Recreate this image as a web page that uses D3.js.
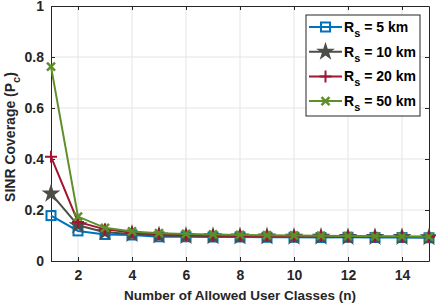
<!DOCTYPE html>
<html>
<head>
<meta charset="utf-8">
<script src="https://d3js.org/d3.v7.min.js"></script>
<style>
  body { margin: 0; background: #fff; }
  svg { display: block; font-family: "Liberation Sans", Arial, sans-serif; }
  .tick text { font-size: 14px; font-weight: bold; fill: #262626; }
</style>
</head>
<body>
<svg width="436" height="307"></svg>
<script>
const nValues = d3.range(1, 16)
const rs5  = [0.178, 0.118, 0.104, 0.102, 0.095, 0.095, 0.094, 0.094, 0.093, 0.093, 0.092, 0.093, 0.092, 0.092, 0.091]
const rs10 = [0.264, 0.140, 0.113, 0.106, 0.100, 0.098, 0.097, 0.096, 0.096, 0.095, 0.095, 0.094, 0.094, 0.094, 0.093]
const rs20 = [0.409, 0.153, 0.124, 0.112, 0.105, 0.102, 0.100, 0.099, 0.098, 0.097, 0.098, 0.096, 0.096, 0.095, 0.095]
const rs50 = [0.762, 0.174, 0.130, 0.116, 0.109, 0.106, 0.104, 0.102, 0.101, 0.100, 0.099, 0.098, 0.097, 0.096, 0.095]
const seriesNames = ["5 km", "10 km", "20 km", "50 km"]
const xTicks = [2, 4, 6, 8, 10, 12, 14]
const yTicks = [0, 0.2, 0.4, 0.6, 0.8, 1]

const series = [
  {name: seriesNames[0], vals: rs5,  color: "#0072BD", marker: "square"},
  {name: seriesNames[1], vals: rs10, color: "#4d4d48", marker: "star"},
  {name: seriesNames[2], vals: rs20, color: "#A2142F", marker: "plus"},
  {name: seriesNames[3], vals: rs50, color: "#5e8f2a", marker: "cross"}
]

const svg = d3.select("svg")
const m = {top: 6, right: 7, bottom: 46, left: 51}
const W = 436, H = 307
const x = d3.scaleLinear().domain([1, 15]).range([m.left, W - m.right])
const y = d3.scaleLinear().domain([0, 1]).range([H - m.bottom, m.top])

// grid
svg.append("g").selectAll("line").data(xTicks).enter().append("line")
  .attr("x1", d => x(d)).attr("x2", d => x(d)).attr("y1", y(0)).attr("y2", y(1))
  .attr("stroke", "#e5e5e5")
svg.append("g").selectAll("line").data(yTicks.slice(1, -1)).enter().append("line")
  .attr("y1", d => y(d)).attr("y2", d => y(d)).attr("x1", x(1)).attr("x2", x(15))
  .attr("stroke", "#e5e5e5")

// axes
const axisColor = "#262626"
let xAxis = svg.append("g").attr("transform", "translate(0," + y(0) + ")")
  .call(d3.axisBottom(x).tickValues(xTicks).tickSizeInner(-4).tickSizeOuter(0).tickPadding(9))
let yAxis = svg.append("g").attr("transform", "translate(" + x(1) + ",0)")
  .call(d3.axisLeft(y).tickValues(yTicks).tickFormat(d3.format("~g")).tickSizeInner(-4).tickSizeOuter(0).tickPadding(7))
let xTop = svg.append("g").attr("transform", "translate(0," + y(1) + ")")
  .call(d3.axisTop(x).tickValues(xTicks).tickSizeInner(-4).tickSizeOuter(0).tickFormat(""))
let yRight = svg.append("g").attr("transform", "translate(" + x(15) + ",0)")
  .call(d3.axisRight(y).tickValues(yTicks).tickSizeInner(-4).tickSizeOuter(0).tickFormat(""))
svg.selectAll(".domain, .tick line").attr("stroke", axisColor)

// markers
function drawMarker(g, type, color, cx, cy) {
  if (type == "square") {
    g.append("rect").attr("x", cx - 4.5).attr("y", cy - 4.5).attr("width", 9).attr("height", 9)
      .attr("fill", "none").attr("stroke", color).attr("stroke-width", 2)
  } else if (type == "star") {
    g.append("path").attr("d", d3.symbol(d3.symbolStar, 110)())
      .attr("transform", "translate(" + cx + "," + cy + ")").attr("fill", color)
  } else if (type == "plus") {
    g.append("path").attr("d", "M" + (cx - 6) + "," + cy + "H" + (cx + 6) + "M" + cx + "," + (cy - 6) + "V" + (cy + 6))
      .attr("stroke", color).attr("stroke-width", 2)
  } else {
    g.append("path").attr("d", "M" + (cx - 4) + "," + (cy - 4) + "L" + (cx + 4) + "," + (cy + 4) + "M" + (cx - 4) + "," + (cy + 4) + "L" + (cx + 4) + "," + (cy - 4))
      .attr("stroke", color).attr("stroke-width", 2.5)
  }
}

const line = d3.line().x((d, i) => x(nValues[i])).y(d => y(d))
series.forEach(s => {
  let g = svg.append("g")
  g.append("path").datum(s.vals).attr("d", line)
    .attr("fill", "none").attr("stroke", s.color).attr("stroke-width", 2)
  s.vals.forEach((v, i) => drawMarker(g, s.marker, s.color, x(nValues[i]), y(v)))
})

// labels
svg.append("text").attr("x", (x(1) + x(15)) / 2).attr("y", 300)
  .attr("text-anchor", "middle").attr("font-size", 13.5).attr("font-weight", "bold").attr("fill", axisColor)
  .text("Number of Allowed User Classes (n)")
let yl = svg.append("text").attr("transform", "translate(15,137) rotate(-90)")
  .attr("text-anchor", "middle").attr("font-size", 14).attr("font-weight", "bold").attr("fill", axisColor)
yl.append("tspan").text("SINR Coverage (P")
yl.append("tspan").attr("font-size", 11).attr("dy", 5).text("c")
yl.append("tspan").attr("dy", -5).text(")")

// legend
const lg = svg.append("g")
lg.append("rect").attr("x", 306).attr("y", 15).attr("width", 114).attr("height", 101)
  .attr("fill", "#fff").attr("stroke", "#262626").attr("stroke-width", 1)
series.forEach((s, i) => {
  let ly = 27 + i * 24.7
  lg.append("line").attr("x1", 309).attr("x2", 342).attr("y1", ly).attr("y2", ly)
    .attr("stroke", s.color).attr("stroke-width", 2)
  drawMarker(lg, s.marker, s.color, 325.5, ly)
  let t = lg.append("text").attr("x", 344).attr("y", ly + 5)
    .attr("font-size", 14).attr("font-weight", "bold").attr("fill", "#000")
  t.append("tspan").text("R")
  t.append("tspan").attr("font-size", 11).attr("dy", 5).text("s")
  t.append("tspan").attr("dy", -5).text(" = " + s.name)
})
</script>
</body>
</html>
